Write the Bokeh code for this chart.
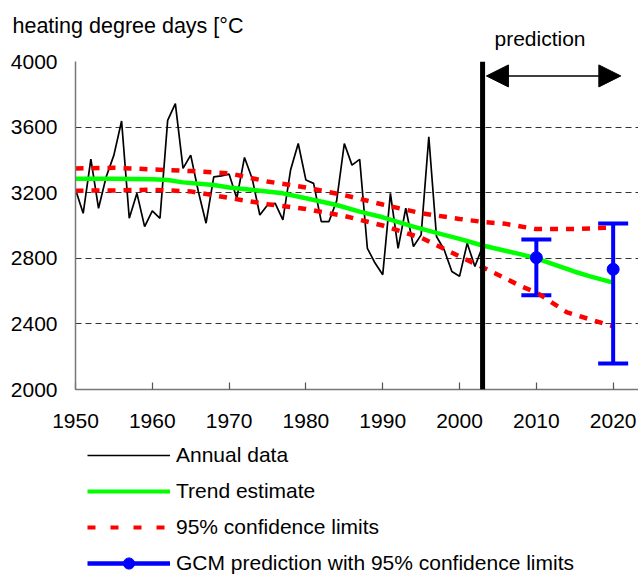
from bokeh.plotting import figure
from bokeh.layouts import column
from bokeh.models import (Legend, LegendItem, Span, Arrow, NormalHead, Whisker, TeeHead,
                          ColumnDataSource, FixedTicker, Range1d)
from bokeh.core.properties import value
from bokeh.embed import file_html
from bokeh.resources import INLINE

# ---------------- data ----------------
years = list(range(1950, 2004))
annual = [3220, 3074, 3405, 3105, 3297, 3429, 3637, 3044, 3196, 2993,
          3089, 3044, 3641, 3743, 3348, 3429, 3206, 3014, 3297, 3303,
          3313, 3166, 3415, 3287, 3064, 3125, 3135, 3034, 3338, 3500,
          3277, 3257, 3024, 3024, 3150, 3500, 3368, 3403, 2861, 2771,
          2700, 3196, 2861, 3105, 2872, 2943, 3541, 2933, 2852, 2720,
          2690, 2892, 2750, 2872]

trend_years = [1950, 1955, 1960, 1962, 1964, 1968, 1970, 1974, 1977, 1980, 1984,
               1987, 1990, 1994, 1997, 2000, 2003, 2008, 2010, 2015, 2017, 2020]
trend = [3285, 3285, 3282, 3277, 3263, 3247, 3232, 3212, 3196, 3166, 3125,
         3085, 3050, 2993, 2955, 2918, 2878, 2824, 2800, 2718, 2690, 2652]

upper_years = [1950, 1955, 1960, 1965, 1970, 1975, 1980, 1985, 1990, 1995,
               2000, 2003, 2006, 2010, 2015, 2020]
upper = [3348, 3352, 3342, 3332, 3318, 3268, 3232, 3185, 3128, 3075,
         3040, 3022, 3010, 2978, 2978, 2988]

lower_years = [1950, 1955, 1960, 1965, 1970, 1975, 1980, 1985, 1990, 1995,
               2000, 2003, 2005, 2008, 2010, 2014, 2020]
lower = [3212, 3214, 3218, 3208, 3168, 3130, 3100, 3058, 3000, 2925,
         2812, 2745, 2700, 2630, 2592, 2470, 2385]

gcm_years = [2010, 2020]
gcm_mean = [2804, 2733]
gcm_low = [2574, 2159]
gcm_high = [2915, 3012]

prediction_start = 2003
prediction_end = 2021
arrow_level = 3912

x_ticks = [1950, 1960, 1970, 1980, 1990, 2000, 2010, 2020]
x_labels = ["1950", "1960", "1970", "1980", "1990", "2000", "2010", "2020"]
y_ticks = [2000, 2400, 2800, 3200, 3600, 4000]
y_labels = ["2000", "2400", "2800", "3200", "3600", "4000"]

title_text = "heating degree days [°C"
prediction_text = "prediction"
legend_labels = ["Annual data", "Trend estimate", "95% confidence limits",
                 "GCM prediction with 95% confidence limits"]

FONT = "Liberation Sans"
FS = "21px"


def no_align(fig):
    if "frame_align" in fig.properties():
        fig.frame_align = False


# ---------------- header strip (texts above the chart) ----------------
head = figure(width=638, height=51, x_range=Range1d(0, 638), y_range=Range1d(51, 0),
              output_backend="svg", toolbar_location=None,
              x_axis_location=None, y_axis_location=None,
              min_border_left=0, min_border_right=0, min_border_top=0, min_border_bottom=0)
no_align(head)
head.outline_line_color = None
head.grid.visible = False
head.text(x=[12], y=[25.4], text=[title_text], text_font=value(FONT), text_font_size="21.5px",
          text_color="black", text_baseline="alphabetic", text_align="left")
head.text(x=[539.5], y=[38.3], text=[prediction_text], text_font=value(FONT), text_font_size=FS,
          text_color="black", text_baseline="alphabetic", text_align="center")

# ---------------- main chart ----------------
p = figure(width=638, height=386, x_range=(1950, 2023.3), y_range=(2000, 4000),
           output_backend="svg", toolbar_location=None,
           min_border_left=75, min_border_top=10, min_border_right=0, min_border_bottom=48)
no_align(p)
p.outline_line_color = None

p.xaxis.ticker = FixedTicker(ticks=x_ticks)
p.xaxis.major_label_overrides = {t: l for t, l in zip(x_ticks, x_labels)}
p.xaxis.major_tick_in = 7
p.xaxis.major_tick_out = 0
p.xaxis.minor_tick_line_color = None
p.xaxis.major_tick_line_color = "#555555"
p.xaxis.major_tick_line_width = 1.2
p.xaxis.axis_line_color = "#777777"
p.xaxis.axis_line_width = 1.5
p.xaxis.major_label_standoff = 24

p.yaxis.ticker = FixedTicker(ticks=y_ticks)
p.yaxis.major_label_overrides = {t: l for t, l in zip(y_ticks, y_labels)}
p.yaxis.major_tick_in = 0
p.yaxis.major_tick_out = 0
p.yaxis.minor_tick_line_color = None
p.yaxis.axis_line_color = "#777777"
p.yaxis.axis_line_width = 1.5
p.yaxis.major_label_standoff = 18

for ax in (p.xaxis, p.yaxis):
    ax.major_label_text_font = FONT
    ax.major_label_text_font_size = FS
    ax.major_label_text_color = "black"

p.xgrid.visible = False
p.ygrid.grid_line_color = "#333333"
p.ygrid.grid_line_dash = "6 4"
p.ygrid.grid_line_width = 1

p.line(years, annual, line_color="black", line_width=1.7)
p.line(trend_years, trend, line_color="#00ff00", line_width=4.5)
p.line(upper_years, upper, line_color="#ff0000", line_width=4.5, line_dash="8 8")
p.line(lower_years, lower, line_color="#ff0000", line_width=4.5, line_dash="8 8")

p.add_layout(Span(location=prediction_start, dimension="height",
                  line_color="black", line_width=5))

p.segment(x0=gcm_years, y0=gcm_low, x1=gcm_years, y1=gcm_high,
          line_color="#0000ff", line_width=4)
wsrc = ColumnDataSource(dict(x=gcm_years, lo=gcm_low, hi=gcm_high))
p.add_layout(Whisker(source=wsrc, base="x", lower="lo", upper="hi", dimension="height",
                     line_alpha=0,
                     upper_head=TeeHead(size=30, line_width=4, line_color="#0000ff"),
                     lower_head=TeeHead(size=30, line_width=4, line_color="#0000ff")))
p.scatter(gcm_years, gcm_mean, size=12, color="#0000ff")

p.add_layout(Arrow(x_start=prediction_start + 0.5, y_start=arrow_level,
                   x_end=prediction_end, y_end=arrow_level,
                   line_color="black", line_width=1.5,
                   start=NormalHead(size=22, fill_color="black", line_color="black"),
                   end=NormalHead(size=22, fill_color="black", line_color="black")))

# ---------------- legend strip ----------------
# the series are repeated here (outside this strip's visible range) only to key the legend
leg = figure(width=638, height=140, x_range=Range1d(0, 1), y_range=Range1d(0, 1),
             output_backend="svg", toolbar_location=None,
             x_axis_location=None, y_axis_location=None,
             min_border_left=0, min_border_right=0, min_border_top=0, min_border_bottom=0)
no_align(leg)
leg.outline_line_color = None
leg.grid.visible = False
l1 = leg.line(years, annual, line_color="black", line_width=1.5)
l2 = leg.line(trend_years, trend, line_color="#00ff00", line_width=4)
l3 = leg.line(upper_years, upper, line_color="#ff0000", line_width=4, line_dash="8 15")
l4 = leg.segment(x0=gcm_years, y0=gcm_low, x1=gcm_years, y1=gcm_high,
                 line_color="#0000ff", line_width=4.5)
l5 = leg.scatter(gcm_years, gcm_mean, size=12, color="#0000ff")

legend = Legend(items=[LegendItem(label=legend_labels[0], renderers=[l1]),
                       LegendItem(label=legend_labels[1], renderers=[l2]),
                       LegendItem(label=legend_labels[2], renderers=[l3]),
                       LegendItem(label=legend_labels[3], renderers=[l4, l5])],
                location=(87, 0), orientation="vertical",
                glyph_width=83, glyph_height=28, label_height=28, spacing=8,
                label_standoff=6, padding=0, margin=0,
                label_text_font=FONT, label_text_font_size=FS, label_text_color="black",
                border_line_alpha=0, background_fill_alpha=0)
leg.add_layout(legend)

layout = column(head, p, leg, spacing=0)
open("out.html", "w").write(file_html(layout, INLINE))
